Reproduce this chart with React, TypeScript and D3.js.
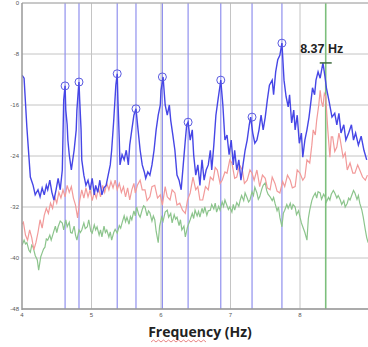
import * as d3 from 'd3';

// spectrum readings: [frequency Hz, level dB]
const blueSeries: [number, number][] = [
  [4.00,-11.3],[4.03,-11.8],[4.07,-19.5],[4.12,-27.3],[4.16,-28.6],[4.19,-30.1],[4.23,-29.3],[4.26,-30.4],[4.29,-29.0],[4.32,-30.1],[4.35,-28.6],[4.37,-29.3],[4.40,-27.8],[4.43,-29.7],[4.46,-30.9],[4.49,-29.3],[4.52,-27.5],[4.55,-29.3],[4.58,-26.2],[4.59,-20.7],[4.60,-15.2],[4.62,-13.0],[4.63,-16.8],[4.65,-19.1],[4.66,-21.5],[4.68,-23.8],[4.69,-24.6],[4.71,-26.2],[4.72,-25.4],[4.75,-23.1],[4.78,-19.9],[4.79,-16.8],[4.81,-13.7],[4.82,-12.4],[4.83,-15.2],[4.85,-19.9],[4.86,-24.6],[4.89,-27.0],[4.92,-28.6],[4.95,-27.8],[4.98,-29.3],[5.01,-27.5],[5.04,-30.1],[5.06,-28.6],[5.09,-29.7],[5.12,-27.8],[5.15,-30.1],[5.18,-29.0],[5.21,-28.6],[5.24,-27.0],[5.27,-25.4],[5.29,-23.1],[5.32,-18.4],[5.35,-12.9],[5.37,-11.1],[5.38,-15.2],[5.40,-21.5],[5.41,-25.4],[5.44,-23.8],[5.47,-24.6],[5.50,-23.1],[5.53,-25.4],[5.55,-22.3],[5.58,-19.9],[5.61,-17.6],[5.64,-16.6],[5.67,-19.9],[5.70,-23.1],[5.73,-25.4],[5.76,-26.5],[5.78,-27.5],[5.81,-26.5],[5.84,-27.0],[5.87,-25.4],[5.90,-23.1],[5.93,-19.9],[5.96,-17.6],[5.99,-16.0],[6.00,-13.7],[6.03,-11.6],[6.06,-16.0],[6.09,-17.6],[6.12,-16.0],[6.14,-18.4],[6.17,-20.7],[6.20,-23.1],[6.23,-27.0],[6.26,-27.8],[6.29,-29.3],[6.32,-25.4],[6.35,-21.5],[6.37,-19.1],[6.39,-18.7],[6.42,-21.5],[6.45,-19.9],[6.47,-23.8],[6.50,-27.0],[6.53,-25.4],[6.56,-28.6],[6.59,-24.6],[6.62,-27.8],[6.65,-26.2],[6.68,-25.4],[6.71,-23.1],[6.73,-26.2],[6.76,-22.3],[6.79,-17.6],[6.82,-15.2],[6.85,-12.9],[6.86,-12.1],[6.89,-16.0],[6.92,-21.5],[6.95,-20.7],[6.98,-23.8],[7.01,-21.5],[7.04,-25.4],[7.06,-23.1],[7.09,-26.2],[7.12,-24.6],[7.15,-27.8],[7.18,-25.4],[7.21,-23.1],[7.24,-21.5],[7.27,-19.1],[7.29,-17.9],
  [7.32,-20.4],[7.35,-22.0],[7.38,-21.5],[7.41,-19.9],[7.44,-17.6],[7.47,-19.9],[7.50,-17.9],[7.53,-15.2],[7.56,-12.9],[7.60,-12.1],[7.62,-14.4],[7.65,-10.8],[7.68,-8.9],[7.71,-8.2],[7.74,-6.3],[7.77,-12.1],[7.80,-14.7],[7.83,-16.3],[7.85,-14.4],[7.88,-18.8],[7.91,-16.8],[7.93,-19.9],[7.96,-17.6],[7.99,-22.0],[8.02,-20.4],[8.04,-24.2],[8.07,-21.5],[8.10,-19.9],[8.13,-17.9],[8.16,-15.2],[8.18,-13.3],[8.21,-14.4],[8.23,-12.1],[8.26,-10.8],[8.29,-11.8],[8.33,-9.4],[8.36,-11.6],[8.38,-13.3],[8.42,-15.5],[8.46,-17.9],[8.50,-17.3],[8.53,-19.1],[8.56,-17.3],[8.59,-20.4],[8.63,-19.1],[8.66,-21.5],[8.70,-20.4],[8.74,-19.1],[8.77,-21.5],[8.80,-20.4],[8.84,-22.3],[8.88,-20.9],[8.92,-23.1],[8.96,-24.6],
];

const redSeries: [number, number][] = [
  [4.00,-34.7],[4.02,-34.4],[4.05,-36.4],[4.08,-37.2],[4.11,-35.6],[4.14,-36.8],[4.17,-38.7],[4.20,-37.6],[4.23,-36.0],[4.26,-34.0],[4.29,-35.3],[4.32,-33.3],[4.35,-32.2],[4.38,-33.0],[4.41,-31.4],[4.44,-32.2],[4.47,-30.4],[4.50,-31.4],[4.53,-29.7],[4.56,-30.6],[4.59,-29.3],[4.62,-30.4],[4.65,-28.6],[4.68,-29.7],[4.71,-28.8],[4.74,-30.6],[4.77,-31.7],[4.80,-33.7],[4.83,-31.0],[4.86,-29.3],[4.89,-30.6],[4.92,-29.0],[4.95,-30.4],[4.98,-29.3],[5.01,-31.0],[5.04,-29.7],[5.07,-30.6],[5.10,-29.0],[5.13,-30.4],[5.16,-28.6],[5.19,-29.7],[5.22,-28.3],[5.25,-29.3],[5.28,-28.0],[5.31,-29.0],[5.34,-27.8],[5.37,-29.3],[5.40,-28.3],[5.43,-29.7],[5.46,-28.8],[5.49,-30.4],[5.52,-29.0],[5.55,-30.9],[5.58,-29.3],[5.61,-28.3],
  [5.63,-29.8],[5.66,-28.6],[5.70,-27.8],[5.73,-29.3],[5.77,-29.3],[5.80,-31.0],[5.84,-30.4],[5.87,-28.8],[5.91,-28.6],[5.95,-30.6],[5.99,-30.1],[6.02,-31.7],[6.06,-28.8],[6.09,-30.4],[6.13,-30.9],[6.16,-29.3],[6.20,-29.8],[6.23,-31.7],[6.27,-31.4],[6.31,-32.5],[6.35,-33.0],[6.38,-31.0],[6.42,-29.8],[6.46,-27.3],[6.50,-29.3],[6.53,-28.8],[6.56,-30.9],[6.60,-30.9],[6.64,-28.8],[6.68,-29.3],[6.71,-27.3],[6.75,-27.8],[6.78,-25.8],[6.81,-26.2],[6.85,-28.3],[6.88,-27.8],[6.92,-26.5],[6.95,-26.7],[6.99,-24.6],[7.02,-25.1],[7.06,-27.5],[7.09,-27.3],[7.13,-25.4],[7.17,-26.2],[7.20,-28.3],[7.24,-27.8],[7.28,-26.2],[7.31,-26.7],
  [7.34,-27.8],[7.38,-26.2],[7.42,-28.8],[7.46,-27.0],[7.50,-27.5],[7.53,-29.0],[7.57,-29.3],[7.60,-27.3],[7.64,-28.3],[7.67,-29.5],[7.71,-29.8],[7.75,-28.0],[7.78,-28.8],[7.82,-27.0],[7.86,-27.8],[7.89,-29.0],[7.93,-28.8],[7.96,-26.2],[8.00,-26.7],[8.04,-27.8],[8.07,-27.3],[8.10,-24.6],[8.14,-25.1],[8.17,-22.3],[8.19,-19.9],[8.22,-20.7],[8.24,-18.4],[8.27,-16.0],[8.29,-13.7],[8.31,-15.5],[8.33,-16.3],[8.35,-14.2],[8.37,-14.7],[8.40,-19.9],[8.43,-24.2],[8.45,-21.0],[8.47,-21.0],[8.50,-23.3],[8.53,-22.6],[8.56,-20.4],[8.58,-21.5],[8.62,-24.2],[8.65,-23.5],[8.68,-26.2],[8.72,-25.1],[8.76,-26.7],[8.79,-26.7],[8.83,-25.4],[8.86,-26.2],[8.90,-27.3],[8.94,-27.8],[8.97,-27.0],
];

const greenSeries: [number, number][] = [
  [4.00,-38.0],[4.03,-37.2],[4.05,-37.8],[4.07,-37.6],[4.10,-38.8],[4.12,-39.1],[4.14,-38.0],[4.16,-38.3],[4.19,-39.6],[4.22,-40.3],[4.24,-41.9],[4.27,-39.8],[4.29,-39.2],[4.31,-38.6],[4.33,-38.3],[4.35,-37.0],[4.37,-37.2],[4.40,-36.4],[4.42,-37.2],[4.45,-36.1],[4.48,-35.0],[4.50,-36.0],[4.52,-35.1],[4.55,-34.2],[4.58,-34.5],[4.60,-35.6],[4.63,-34.0],[4.65,-35.1],[4.68,-34.4],[4.70,-36.0],[4.72,-36.1],[4.75,-35.0],[4.77,-36.4],[4.79,-37.2],[4.82,-35.6],[4.84,-36.0],[4.86,-35.6],[4.89,-34.5],[4.91,-35.4],[4.94,-35.1],[4.96,-34.0],[4.99,-35.8],[5.01,-36.1],[5.04,-34.8],[5.06,-35.6],[5.08,-35.1],[5.11,-36.4],[5.13,-35.6],[5.15,-36.7],[5.18,-35.0],[5.20,-36.0],[5.22,-35.6],[5.25,-36.7],[5.27,-35.9],[5.29,-37.2],[5.32,-36.0],[5.34,-35.5],[5.37,-36.1],[5.40,-34.9],[5.42,-35.3],[5.44,-34.5],[5.47,-33.4],[5.49,-34.3],[5.51,-33.6],[5.54,-34.7],[5.56,-33.5],[5.58,-34.0],[5.61,-32.6],[5.63,-33.4],[5.65,-32.0],[5.68,-33.2],[5.70,-33.6],[5.73,-32.4],[5.75,-31.8],[5.77,-32.0],[5.80,-33.4],[5.82,-32.6],[5.84,-32.9],[5.87,-34.2],[5.89,-33.4],[5.91,-34.0],[5.93,-35.8],[5.96,-37.6],[5.98,-35.0],
  [6.01,-33.6],[6.03,-34.2],[6.06,-32.8],[6.09,-32.5],[6.11,-33.6],[6.14,-33.0],[6.16,-34.5],[6.19,-33.2],[6.21,-33.9],[6.23,-33.6],[6.26,-34.9],[6.28,-34.0],[6.30,-35.6],[6.33,-35.0],[6.35,-36.7],[6.38,-35.2],[6.40,-34.6],[6.42,-34.0],[6.45,-33.0],[6.47,-33.8],[6.49,-32.5],[6.52,-33.4],[6.54,-32.7],[6.56,-33.6],[6.59,-32.2],[6.61,-33.0],[6.63,-32.0],[6.66,-33.3],[6.68,-32.6],[6.71,-32.5],[6.73,-31.6],[6.76,-32.3],[6.78,-31.4],[6.80,-32.8],[6.83,-31.9],[6.85,-32.5],[6.88,-31.2],[6.90,-31.9],[6.92,-30.9],[6.95,-31.8],[6.97,-32.4],[6.99,-32.0],
  [7.02,-32.8],[7.04,-31.6],[7.06,-32.5],[7.09,-31.3],[7.12,-31.9],[7.14,-30.9],[7.16,-30.2],[7.19,-31.0],[7.21,-29.8],[7.24,-30.6],[7.26,-31.2],[7.28,-30.9],[7.31,-29.6],[7.33,-30.2],[7.35,-28.9],[7.38,-29.8],[7.40,-30.8],[7.42,-30.4],[7.45,-29.2],[7.47,-28.6],[7.50,-28.2],[7.52,-29.4],[7.54,-30.0],[7.57,-30.4],[7.60,-31.0],[7.62,-30.5],[7.64,-31.4],[7.67,-32.6],[7.69,-32.0],[7.71,-33.6],[7.74,-35.1],[7.76,-33.0],[7.78,-32.5],[7.81,-31.6],[7.83,-32.2],[7.86,-31.4],[7.88,-32.4],[7.90,-31.6],[7.93,-32.0],[7.95,-33.2],[7.98,-32.6],
  [8.00,-33.6],[8.02,-34.5],[8.04,-35.1],[8.07,-36.0],[8.10,-37.2],[8.12,-33.8],[8.14,-32.5],[8.17,-31.0],[8.19,-30.4],[8.22,-29.8],[8.24,-30.6],[8.26,-29.6],[8.29,-29.8],[8.31,-30.8],[8.34,-30.0],[8.36,-30.4],[8.38,-31.2],[8.41,-30.5],[8.43,-30.9],[8.45,-30.0],[8.48,-29.4],[8.50,-29.8],[8.53,-30.6],[8.55,-30.2],[8.58,-30.9],[8.60,-31.6],[8.63,-31.0],[8.65,-32.0],[8.68,-31.4],[8.70,-30.6],[8.72,-30.9],[8.75,-30.0],[8.77,-29.4],[8.79,-29.8],[8.82,-30.8],[8.84,-30.2],[8.86,-31.4],[8.89,-32.5],[8.91,-33.6],[8.94,-35.6],[8.96,-36.8],[8.98,-37.6],
];

// picked harmonics (circle markers + vertical cursor lines)
const peakFreqs = [4.62, 4.82, 5.37, 5.64, 6.02, 6.39, 6.86, 7.31, 7.74];
const peakLevels = [-13.0, -12.4, -11.1, -16.6, -11.6, -18.7, -12.1, -17.9, -6.3];

const markerFreq = 8.37;
const markerLevel = -9.4;
const markerLabel = '8.37 Hz';

const yTicks = [0, -8, -16, -24, -32, -40, -48];
const xTicks = [4, 5, 6, 7, 8];

export default function App() {
  const W = 368;
  const H = 347;
  const left = 22;
  const right = 368;
  const top = 3;
  const bottom = 309;

  const x = d3.scaleLinear().domain([4, 9]).range([left, 369.5]);
  const y = d3.scaleLinear().domain([0, -48]).range([top, bottom]);

  const line = d3
    .line<[number, number]>()
    .x((d) => x(d[0]))
    .y((d) => y(d[1]));

  const labelX = x(markerFreq);

  return (
    <svg
      width={W}
      height={H}
      style={{ position: 'absolute', left: 0, top: 0, background: '#fff' }}
      fontFamily="'Liberation Sans', Arial, sans-serif"
    >
      <defs>
        <clipPath id="plot">
          <rect x={left} y={top} width={right - left} height={bottom - top} />
        </clipPath>
      </defs>

      {/* grid */}
      {yTicks.map((t) => (
        <line key={'gy' + t} x1={left} x2={right} y1={y(t)} y2={y(t)} stroke="#c4c4c4" strokeWidth={1} />
      ))}
      {xTicks.slice(1).map((t) => (
        <line key={'gx' + t} x1={x(t)} x2={x(t)} y1={top} y2={bottom} stroke="#c4c4c4" strokeWidth={1} />
      ))}

      <g clipPath="url(#plot)">
        {/* harmonic cursors */}
        {peakFreqs.map((f) => (
          <line key={'pl' + f} x1={x(f)} x2={x(f)} y1={top} y2={bottom} stroke="#9090ee" strokeWidth={1.2} />
        ))}
        <line x1={x(markerFreq)} x2={x(markerFreq)} y1={top} y2={bottom} stroke="#7cbf7c" strokeWidth={1.6} />

        <path d={line(greenSeries) ?? ''} fill="none" stroke="#8cc48c" strokeWidth={1.2} />
        <path d={line(redSeries) ?? ''} fill="none" stroke="#f29a9a" strokeWidth={1.2} />
        <path d={line(blueSeries) ?? ''} fill="none" stroke="#4646e6" strokeWidth={1.4} />

        {peakFreqs.map((f, i) => (
          <circle key={'pc' + f} cx={x(f)} cy={y(peakLevels[i])} r={4} fill="none" stroke="#5a5ae0" strokeWidth={1} />
        ))}
      </g>

      {/* frame */}
      <line x1={left} x2={right} y1={top} y2={top} stroke="#b0b0b0" strokeWidth={1} />
      <line x1={left} x2={left} y1={top} y2={bottom + 1} stroke="#999" strokeWidth={1.5} />
      <line x1={left} x2={right} y1={bottom} y2={bottom} stroke="#999" strokeWidth={1.5} />

      {yTicks.map((t) => (
        <text key={'ty' + t} x={left - 3} y={y(t)} dy="0.35em" textAnchor="end" fontSize={6} fill="#555">
          {t}
        </text>
      ))}
      {xTicks.map((t) => (
        <text key={'tx' + t} x={x(t)} y={bottom + 8} textAnchor="middle" fontSize={6} fill="#555">
          {t}
        </text>
      ))}

      {/* marker annotation */}
      <line x1={labelX - 6} x2={labelX + 6} y1={y(markerLevel)} y2={y(markerLevel)} stroke="#3d6b3d" strokeWidth={1.5} />
      <text x={labelX - 4} y={53} textAnchor="middle" fontSize={12.5} fontWeight="bold" fill="#222">
        {markerLabel}
      </text>

      <text x={200} y={337} textAnchor="middle" fontSize={14} fontWeight="bold" fill="#222" fontFamily="'Open Sans', sans-serif">
        Frequency (Hz)
      </text>
      <path
        d={d3.range(0, 23).map((i) => `${i === 0 ? 'M' : 'L'}${151 + i * 2.5},${i % 2 ? 340 : 342}`).join('')}
        fill="none"
        stroke="#e05050"
        strokeWidth={0.7}
      />
    </svg>
  );
}
